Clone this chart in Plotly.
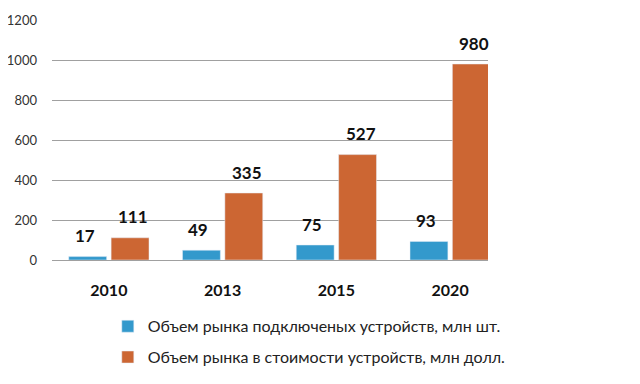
import plotly.graph_objects as go

years = ["2010", "2013", "2015", "2020"]
devices = [17, 49, 75, 93]
value = [111, 335, 527, 980]
name_devices = "Объем рынка подключеных устройств, млн шт."
name_value = "Объем рынка в стоимости устройств, млн долл."
y_ticks = [0, 200, 400, 600, 800, 1000, 1200]

blue = "#3399cc"
orange = "#cc6633"

fig = go.Figure()
fig.add_trace(go.Bar(x=years, y=devices, name=name_devices, marker_color=blue,
                     legendgroup="a", offsetgroup="a"))
fig.add_trace(go.Bar(x=years, y=value, name=name_value, marker_color=orange,
                     legendgroup="b", offsetgroup="b"))

# value labels above bars
for i, (d, v) in enumerate(zip(devices, value)):
    fig.add_annotation(x=i - 0.2125, y=d, text=str(d), showarrow=False, yshift=21,
                       font=dict(family="Lato", size=17, color="#111111", weight="bold"))
    fig.add_annotation(x=i + 0.2125, y=v, text=str(v), showarrow=False, yshift=21,
                       font=dict(family="Lato", size=17, color="#111111", weight="bold"))

fig.update_layout(
    width=632, height=376,
    margin=dict(l=44, r=152, t=12, b=124, autoexpand=False),
    paper_bgcolor="white", plot_bgcolor="white",
    barmode="group", bargap=0.255, bargroupgap=0.106,
    showlegend=True,
    legend=dict(x=0.128, y=-0.2055, xanchor="left", yanchor="top",
                font=dict(family="Lato", size=16, color="#222222"),
                tracegroupgap=7, bgcolor="rgba(0,0,0,0)"),
    font=dict(family="Lato"),
)
fig.update_xaxes(type="category", range=[-0.5, 3.333], showgrid=False, showline=False,
                 ticks="", ticklabelstandoff=19, automargin=False,
                 tickfont=dict(family="Lato", size=16, color="#111111", weight="bold"))
fig.update_yaxes(range=[0, 1200], tickvals=y_ticks, showgrid=True, gridcolor="#a0a0a0",
                 gridwidth=1, zeroline=True, zerolinecolor="#a0a0a0", zerolinewidth=1,
                 showline=False, ticks="", ticklabelstandoff=14, automargin=False,
                 tickfont=dict(family="Lato", size=13, color="#333333"))

fig.write_html("out.html")
